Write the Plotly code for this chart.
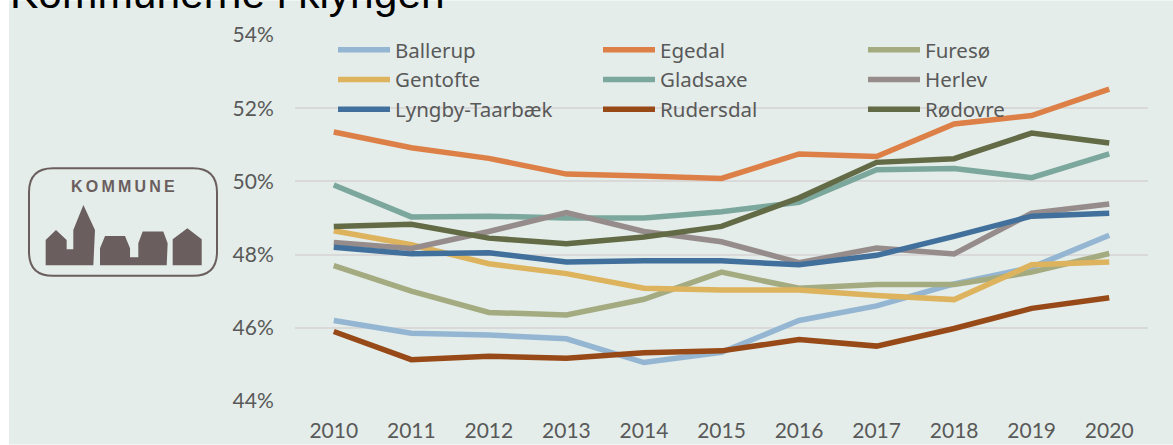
import plotly.graph_objects as go

W, H = 1173, 445
L, R, T, B = 295, 1148, 34.5, 401.5

years = [str(y) for y in range(2010, 2021)]
tick_values = [44, 46, 48, 50, 52, 54]
tick_labels = ["44%", "46%", "48%", "50%", "52%", "54%"]
ballerup = [46.2, 45.85, 45.8, 45.7, 45.05, 45.33, 46.2, 46.6, 47.2, 47.65, 48.53]
egedal = [51.35, 50.92, 50.63, 50.2, 50.15, 50.08, 50.75, 50.68, 51.57, 51.8, 52.52]
furesoe = [47.7, 47.0, 46.42, 46.35, 46.78, 47.52, 47.08, 47.18, 47.18, 47.52, 48.03]
gentofte = [48.65, 48.27, 47.75, 47.48, 47.08, 47.03, 47.03, 46.88, 46.77, 47.72, 47.8]
gladsaxe = [49.9, 49.03, 49.05, 49.0, 49.0, 49.17, 49.43, 50.32, 50.35, 50.1, 50.75]
herlev = [48.33, 48.17, 48.63, 49.15, 48.63, 48.35, 47.78, 48.18, 48.02, 49.13, 49.38]
lyngby = [48.2, 48.02, 48.05, 47.8, 47.83, 47.83, 47.72, 47.98, 48.5, 49.05, 49.13]
rudersdal = [45.9, 45.13, 45.22, 45.17, 45.32, 45.37, 45.68, 45.5, 45.98, 46.53, 46.82]
roedovre = [48.77, 48.83, 48.45, 48.3, 48.48, 48.77, 49.55, 50.52, 50.62, 51.32, 51.05]

series = [
    ("Ballerup", ballerup, "#94B6D2"),
    ("Egedal", egedal, "#DD8047"),
    ("Furesø", furesoe, "#A5AB81"),
    ("Gentofte", gentofte, "#DDB35E"),
    ("Gladsaxe", gladsaxe, "#7BA79D"),
    ("Herlev", herlev, "#968C8C"),
    ("Lyngby-Taarbæk", lyngby, "#41709C"),
    ("Rudersdal", rudersdal, "#974A18"),
    ("Rødovre", roedovre, "#636B46"),
]

TEXT = "#595959"
FONT = "Lato"
LOGO = "#6B5E5E"

fig = go.Figure()
for name, vals, col in series:
    fig.add_trace(go.Scatter(x=years, y=vals, name=name, mode="lines",
                             line=dict(color=col, width=5.5)))


def px(x):
    return (x - L) / (R - L)


def py(y):
    return (B - y) / (B - T)


def path(points):
    return "M" + "L".join(f"{px(a / 3):.4f},{py(150 + b / 3):.4f}" for a, b in points) + "Z"


house_a = [(137, 346), (137, 270), (168, 240), (200, 270), (200, 298), (220, 298), (220, 240),
           (250, 165), (285, 240), (280, 346)]
house_b = [(300, 346), (300, 295), (315, 258), (375, 258), (390, 295), (390, 322), (415, 322),
           (415, 280), (428, 245), (490, 245), (503, 280), (500, 346)]
house_c = [(518, 346), (518, 268), (562, 235), (605, 268), (605, 346)]

x0, x1, y0, y1, r = 29, 217, 168, 276, 24
frame = (f"M{px(x0 + r)},{py(y0)}L{px(x1 - r)},{py(y0)}Q{px(x1)},{py(y0)} {px(x1)},{py(y0 + r)}"
         f"L{px(x1)},{py(y1 - r)}Q{px(x1)},{py(y1)} {px(x1 - r)},{py(y1)}L{px(x0 + r)},{py(y1)}"
         f"Q{px(x0)},{py(y1)} {px(x0)},{py(y1 - r)}L{px(x0)},{py(y0 + r)}Q{px(x0)},{py(y0)} {px(x0 + r)},{py(y0)}Z")

shapes = [
    dict(type="rect", xref="paper", yref="paper", x0=px(9), x1=px(W), y0=py(H), y1=py(0),
         fillcolor="#E4EDE9", line_width=0, layer="below"),
    dict(type="path", xref="paper", yref="paper", path=frame,
         line=dict(color=LOGO, width=2), fillcolor="rgba(0,0,0,0)"),
]
for h in (house_a, house_b, house_c):
    shapes.append(dict(type="path", xref="paper", yref="paper", path=path(h),
                       fillcolor=LOGO, line_width=0))

fig.update_layout(
    width=W, height=H, autosize=False,
    margin=dict(l=L, r=W - R, t=T, b=H - B, autoexpand=False),
    paper_bgcolor="#FFFFFF", plot_bgcolor="rgba(0,0,0,0)",
    font=dict(family=FONT, color=TEXT, size=21),
    shapes=shapes,
    xaxis=dict(type="category", range=[-0.5, 10.5], showgrid=False, showline=False, zeroline=False,
               ticks="outside", ticklen=11, tickcolor="rgba(0,0,0,0)",
               tickfont=dict(family=FONT, size=21, color=TEXT)),
    yaxis=dict(range=[44, 54], tickmode="array", tickvals=tick_values, ticktext=tick_labels,
               showgrid=True, gridcolor="#D9D9D9", gridwidth=2, zeroline=False, showline=False,
               ticks="outside", ticklen=16, tickcolor="rgba(0,0,0,0)",
               tickfont=dict(family=FONT, size=21, color=TEXT)),
    legend=dict(orientation="h", xref="paper", yref="paper", x=px(333), y=py(29.5), xanchor="left",
                yanchor="top", entrywidth=198, entrywidthmode="pixels", itemwidth=52,
                bgcolor="rgba(0,0,0,0)", font=dict(family="Noto Sans", size=20.5, color=TEXT),
                traceorder="normal"),
    annotations=[
        dict(text="Kommunerne i klyngen", xref="paper", yref="paper", x=px(8), y=py(-33),
             xanchor="left", yanchor="top", showarrow=False,
             font=dict(family="Liberation Sans", size=42.5, color="#000000")),
        dict(text="<b>K\u2009O\u2009M\u2009M\u2009U\u2009N\u2009E</b>", xref="paper", yref="paper",
             x=px(123), y=py(186), xanchor="center", yanchor="middle", showarrow=False,
             font=dict(family="Liberation Sans", size=16, color=LOGO)),
    ],
)

fig.write_html("out.html", config=dict(displayModeBar=False),
               post_script="document.body.style.margin='0';document.documentElement.style.overflow='hidden';")
